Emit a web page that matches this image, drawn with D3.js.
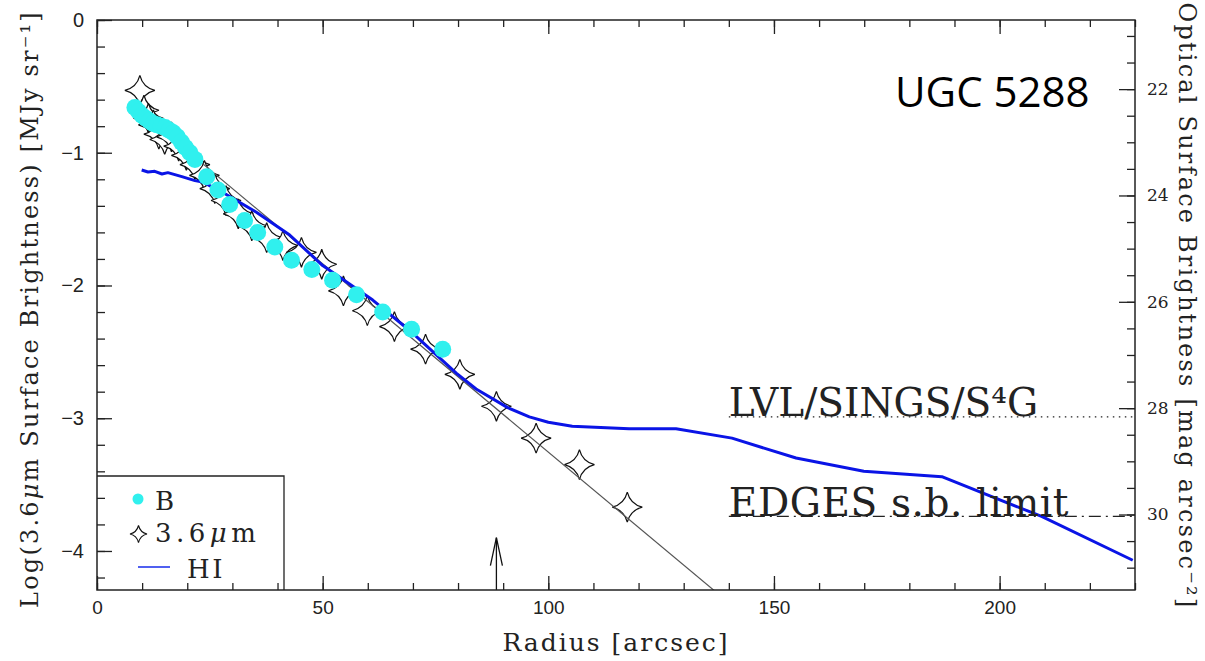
<!DOCTYPE html>
<html>
<head>
<meta charset="utf-8">
<script src="https://cdn.jsdelivr.net/npm/d3@7"></script>
<style>
  body { margin: 0; background: #fff; }
  svg { display: block; }
</style>
</head>
<body>
<svg class="profile" width="1205" height="661"></svg>
<script>
// B-band profile (radius arcsec, log surface brightness)
const bRadius = [8.4, 9.2, 10.0, 10.8, 11.6, 12.4, 13.3, 14.2, 15.1, 16.0, 16.9, 17.8, 18.7, 19.6, 20.6, 21.7, 24.3, 26.8, 29.4, 32.7, 35.6, 39.4, 43.1, 47.6, 52.2, 57.5, 63.3, 69.7, 76.6];
const bLog = [-0.66, -0.69, -0.72, -0.74, -0.76, -0.78, -0.79, -0.80, -0.81, -0.83, -0.85, -0.88, -0.92, -0.96, -1.00, -1.05, -1.18, -1.28, -1.39, -1.51, -1.60, -1.71, -1.81, -1.88, -1.96, -2.07, -2.20, -2.33, -2.48];

// 3.6 micron profile
const irRadius = [9.5, 10.4, 11.4, 12.5, 13.7, 15.0, 16.5, 18.1, 19.8, 21.7, 23.8, 26.1, 28.6, 31.3, 34.3, 37.6, 41.2, 45.3, 49.8, 54.6, 59.9, 65.9, 72.8, 80.4, 88.5, 97.3, 106.9, 117.5];
const irLog = [-0.53, -0.68, -0.74, -0.79, -0.86, -0.90, -0.88, -0.95, -1.02, -1.09, -1.17, -1.27, -1.36, -1.46, -1.55, -1.64, -1.70, -1.75, -1.84, -2.04, -2.19, -2.31, -2.48, -2.67, -2.91, -3.15, -3.35, -3.67];

// HI profile
const hiRadius = [9.9, 11.3, 12.8, 14.4, 15.7, 18.8, 21.7, 23.4, 27.9, 35.4, 42.7, 50.0, 61.1, 70.0, 79.6, 84.0, 91.0, 95.8, 100.0, 105.3, 117.9, 128.3, 140.7, 154.9, 169.9, 187.2, 209.3, 229.5];
const hiLog = [-1.13, -1.145, -1.14, -1.16, -1.15, -1.18, -1.21, -1.22, -1.30, -1.45, -1.62, -1.85, -2.11, -2.36, -2.66, -2.78, -2.92, -2.99, -3.03, -3.06, -3.08, -3.08, -3.15, -3.30, -3.40, -3.44, -3.74, -4.07];

// exponential fit to the 3.6 micron disk
const fitRadius = [8, 140];
const fitLog = [-0.645, -4.39];

// survey limits
const limitNames = ['LVL/SINGS/S\u2074G', 'EDGES s.b. limit'];
const limitLog = [-2.99, -3.74];
const limitStart = 140;

const arrowRadius = 88.5;
const arrowTop = -3.9;

const xTicks = [0, 50, 100, 150, 200];
const yTicks = [0, -1, -2, -3, -4];
const magTicks = [22, 24, 26, 28, 30];

const svg = d3.select('.profile');

const plotLeft = 97, plotRight = 1135, plotTop = 20, plotBottom = 590;

const x = d3.scaleLinear().domain([0, 230]).range([plotLeft, plotRight]);
const y = d3.scaleLinear().domain([0, -4.294]).range([plotTop, plotBottom]);
const yMag = d3.scaleLinear().domain([20.70, 31.42]).range([plotTop, plotBottom]);

svg.append('defs').append('clipPath').attr('id', 'plotclip')
    .append('rect')
    .attr('x', plotLeft).attr('y', plotTop)
    .attr('width', plotRight - plotLeft).attr('height', plotBottom - plotTop);

const plot = svg.append('g').attr('clip-path', 'url(#plotclip)');

// star marker: four points, concave sides
function starPath(R) {
    const k = R * 0.2;
    return `M0,${-R}Q${k},${-k} ${R},0Q${k},${k} 0,${R}Q${-k},${k} ${-R},0Q${-k},${-k} 0,${-R}Z`;
}

// reference lines
plot.append('line')
    .attr('x1', x(limitStart)).attr('x2', plotRight)
    .attr('y1', y(limitLog[0])).attr('y2', y(limitLog[0]))
    .attr('stroke', '#222').attr('stroke-width', 1.3)
    .attr('stroke-dasharray', '1.5,4.5');
plot.append('line')
    .attr('x1', x(limitStart)).attr('x2', plotRight)
    .attr('y1', y(limitLog[1])).attr('y2', y(limitLog[1]))
    .attr('stroke', '#222').attr('stroke-width', 1.3)
    .attr('stroke-dasharray', '12,5,2,5');

svg.append('text')
    .attr('x', x(limitStart)).attr('y', y(limitLog[0]) - 1)
    .attr('font-family', 'DejaVu Serif').attr('font-size', 39)
    .attr('fill', '#222')
    .text(limitNames[0]);
svg.append('text')
    .attr('x', x(limitStart)).attr('y', y(limitLog[1]))
    .attr('font-family', 'DejaVu Serif').attr('font-size', 39)
    .attr('letter-spacing', 0.6)
    .attr('fill', '#222')
    .text(limitNames[1]);

// 3.6 micron stars
irRadius.forEach((r, i) => {
    plot.append('path')
        .attr('d', starPath(15))
        .attr('transform', `translate(${x(r)},${y(irLog[i])})`)
        .attr('fill', '#fff')
        .attr('stroke', '#111')
        .attr('stroke-width', 1.2);
});

// fit line
plot.append('line')
    .attr('x1', x(fitRadius[0])).attr('y1', y(fitLog[0]))
    .attr('x2', x(fitRadius[1])).attr('y2', y(fitLog[1]))
    .attr('stroke', '#555').attr('stroke-width', 1.2);

// HI
const hiLine = d3.line().x(d => x(d[0])).y(d => y(d[1]));
plot.append('path')
    .attr('d', hiLine(hiRadius.map((r, i) => [r, hiLog[i]])))
    .attr('fill', 'none')
    .attr('stroke', '#0a14e6')
    .attr('stroke-width', 3)
    .attr('stroke-linejoin', 'round');

// B band
bRadius.forEach((r, i) => {
    plot.append('circle')
        .attr('cx', x(r)).attr('cy', y(bLog[i]))
        .attr('r', 8.5)
        .attr('fill', '#30f0ee');
});

// arrow
const ax = x(arrowRadius);
svg.append('line')
    .attr('x1', ax).attr('x2', ax)
    .attr('y1', plotBottom).attr('y2', y(arrowTop))
    .attr('stroke', '#111').attr('stroke-width', 1.3);
svg.append('path')
    .attr('d', `M${ax - 6},${y(arrowTop) + 28}L${ax},${y(arrowTop)}L${ax + 6},${y(arrowTop) + 28}`)
    .attr('fill', 'none').attr('stroke', '#111').attr('stroke-width', 1.3);

// axes
function styleAxis(g) {
    g.select('.domain').remove();
    g.selectAll('.tick line').attr('stroke', '#222').attr('stroke-width', 1.3);
}

const xMinor = d3.range(0, 231, 10);
const yMinor = d3.range(0, -4.3, -0.2);
const magMinor = d3.range(21, 31.5, 0.5);

svg.append('g').attr('transform', `translate(0,${plotBottom})`)
    .call(d3.axisBottom(x).tickValues(xTicks).tickSize(-14).tickPadding(11).tickFormat(d3.format('d')))
    .call(styleAxis)
    .call(g => g.selectAll('text').attr('font-family', 'Liberation Sans').attr('font-size', 19).attr('fill', '#222'));
svg.append('g').attr('transform', `translate(0,${plotBottom})`)
    .call(d3.axisBottom(x).tickValues(xMinor).tickSize(-7).tickFormat(''))
    .call(styleAxis);
svg.append('g').attr('transform', `translate(0,${plotTop})`)
    .call(d3.axisTop(x).tickValues(xTicks).tickSize(-14).tickFormat(''))
    .call(styleAxis);
svg.append('g').attr('transform', `translate(0,${plotTop})`)
    .call(d3.axisTop(x).tickValues(xMinor).tickSize(-7).tickFormat(''))
    .call(styleAxis);

svg.append('g').attr('transform', `translate(${plotLeft},0)`)
    .call(d3.axisLeft(y).tickValues(yTicks).tickSize(-15).tickPadding(13).tickFormat(d3.format('d')))
    .call(styleAxis)
    .call(g => g.selectAll('text').attr('font-family', 'Liberation Sans').attr('font-size', 20).attr('fill', '#222'));
svg.append('g').attr('transform', `translate(${plotLeft},0)`)
    .call(d3.axisLeft(y).tickValues(yMinor).tickSize(-8).tickFormat(''))
    .call(styleAxis);

svg.append('g').attr('transform', `translate(${plotRight},0)`)
    .call(d3.axisRight(yMag).tickValues(magTicks).tickSize(-16).tickPadding(12).tickFormat(d3.format('d')))
    .call(styleAxis)
    .call(g => g.selectAll('text').attr('font-family', 'DejaVu Serif').attr('font-size', 17).attr('fill', '#222'));
svg.append('g').attr('transform', `translate(${plotRight},0)`)
    .call(d3.axisRight(yMag).tickValues(magMinor).tickSize(-8).tickFormat(''))
    .call(styleAxis);

// frame
svg.append('rect')
    .attr('x', plotLeft).attr('y', plotTop)
    .attr('width', plotRight - plotLeft).attr('height', plotBottom - plotTop)
    .attr('fill', 'none').attr('stroke', '#222').attr('stroke-width', 1.5);

// legend
const legend = svg.append('g');
legend.append('path')
    .attr('d', `M${plotLeft},476H284V${plotBottom}`)
    .attr('fill', 'none').attr('stroke', '#222').attr('stroke-width', 1.3);
legend.append('circle').attr('cx', 138).attr('cy', 499).attr('r', 5.5).attr('fill', '#30f0ee');
legend.append('text').attr('x', 155).attr('y', 510).text('B');
legend.append('path').attr('d', starPath(8.5))
    .attr('transform', 'translate(138.5,534)')
    .attr('fill', '#fff').attr('stroke', '#111').attr('stroke-width', 1.1);
const irText = legend.append('text').attr('x', 155).attr('y', 542).attr('letter-spacing', 4.5);
irText.append('tspan').text('3.6');
irText.append('tspan').attr('font-style', 'italic').text('\u03bc');
irText.append('tspan').text('m');
legend.append('line').attr('x1', 138).attr('x2', 170).attr('y1', 567).attr('y2', 567)
    .attr('stroke', '#5060f0').attr('stroke-width', 2);
legend.append('text').attr('x', 187).attr('y', 578).text('HI');
legend.selectAll('text')
    .attr('font-family', 'DejaVu Serif').attr('font-size', 26)
    .attr('fill', '#222');
legend.selectAll('text').filter(function () { return !this.getAttribute('letter-spacing'); })
    .attr('letter-spacing', 2.5);

// axis titles
svg.append('text')
    .attr('x', (plotLeft + plotRight) / 2).attr('y', 651)
    .attr('text-anchor', 'middle')
    .attr('font-family', 'DejaVu Serif').attr('font-size', 25)
    .attr('letter-spacing', 2).attr('fill', '#222')
    .text('Radius [arcsec]');

const yTitle = svg.append('text')
    .attr('transform', 'translate(38,309) rotate(-90)')
    .attr('text-anchor', 'middle')
    .attr('font-family', 'DejaVu Serif').attr('font-size', 24)
    .attr('letter-spacing', 2.2).attr('fill', '#222');
yTitle.append('tspan').text('Log(3.6');
yTitle.append('tspan').attr('font-style', 'italic').text('\u03bc');
yTitle.append('tspan').text('m Surface Brightness) [MJy sr\u207b\u00b9]');

svg.append('text')
    .attr('transform', 'translate(1179,306) rotate(90)')
    .attr('text-anchor', 'middle')
    .attr('font-family', 'DejaVu Serif').attr('font-size', 24)
    .attr('letter-spacing', 2.2).attr('fill', '#222')
    .text('Optical Surface Brightness [mag arcsec\u207b\u00b2]');

// galaxy name
svg.append('text')
    .attr('x', 895).attr('y', 107)
    .attr('font-family', 'Open Sans').attr('font-size', 42).attr('fill', '#000')
    .text('UGC 5288');
</script>
</body>
</html>
